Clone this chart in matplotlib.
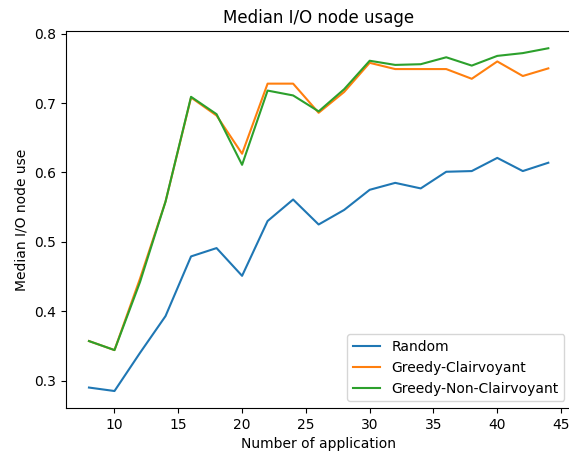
import matplotlib
matplotlib.use("Agg")
import matplotlib.pyplot as plt

# number of applications on the x axis
apps = [8, 10, 12, 14, 16, 18, 20, 22, 24, 26, 28, 30, 32, 34, 36, 38, 40, 42, 44]

random_use = [0.290, 0.285, 0.340, 0.393, 0.479, 0.491, 0.451, 0.530, 0.561, 0.525,
              0.546, 0.575, 0.585, 0.577, 0.601, 0.602, 0.621, 0.602, 0.614]
greedy_clair = [0.357, 0.344, 0.447, 0.558, 0.708, 0.682, 0.627, 0.728, 0.728, 0.686,
                0.716, 0.758, 0.749, 0.749, 0.749, 0.735, 0.760, 0.739, 0.750]
greedy_nonclair = [0.357, 0.344, 0.442, 0.558, 0.709, 0.684, 0.611, 0.718, 0.711, 0.688,
                   0.720, 0.761, 0.755, 0.756, 0.766, 0.754, 0.768, 0.772, 0.779]

fig = plt.figure(figsize=(5.69, 4.51), dpi=100)
ax = fig.add_axes([0.116, 0.095, 0.888, 0.836])

ax.plot(apps, random_use, label='Random', linewidth=1.5)
ax.plot(apps, greedy_clair, label='Greedy-Clairvoyant', linewidth=1.5)
ax.plot(apps, greedy_nonclair, label='Greedy-Non-Clairvoyant', linewidth=1.5)

ax.set_title('Median I/O node usage', fontsize=12)
ax.set_xlabel('Number of application')
ax.set_ylabel('Median I/O node use')
ax.set_yticks([0.3, 0.4, 0.5, 0.6, 0.7, 0.8])
ax.legend(loc='lower right')

fig.savefig('out.png', dpi=100)
